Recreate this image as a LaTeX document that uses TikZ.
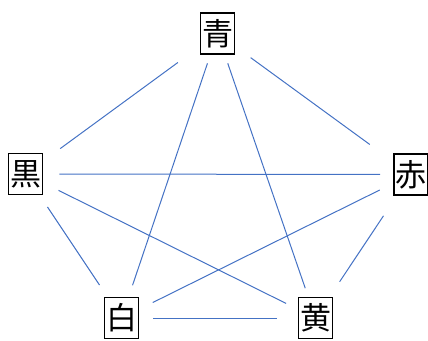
\documentclass[tikz,border=0pt]{standalone}
\usepackage{fontspec}
\newfontfamily\jpfont{Noto Sans CJK JP}
\usepackage{tikz}
\definecolor{lineBlue}{HTML}{4472C4}

\begin{document}
\begin{tikzpicture}[x=1pt, y=-1pt,
  kanji/.style={draw, line width=1.6pt, inner sep=0pt, minimum width=34pt,
                minimum height=41pt, font=\jpfont\fontsize{31}{31}\selectfont},
  link/.style={lineBlue, line width=1pt}]
  \useasboundingbox (0,0) rectangle (428,340);
  % the five colours
  \node[kanji] (ao)    at (217.5,33.5) {青};
  \node[kanji] (kuro)  at (25.5,174)   {黒};
  \node[kanji] (aka)   at (411,174.5)  {赤};
  \node[kanji] (shiro) at (121.5,318)  {白};
  \node[kanji] (ki)    at (315.5,318)  {黄};
  % outer ring
  \draw[link, shorten <=27pt, shorten >=21pt] (ao) -- (kuro);
  \draw[link, shorten <=19pt, shorten >=29pt] (ao) -- (aka);
  \draw[link, shorten <=14pt, shorten >=14pt] (kuro) -- (shiro);
  \draw[link, shorten <=24pt, shorten >=18pt] (aka) -- (ki);
  \draw[link, shorten <=14pt, shorten >=21pt] (shiro) -- (ki);
  % inner star
  \draw[link, shorten <=16pt, shorten >=13pt] (kuro) -- (aka);
  \draw[link, shorten <=17pt, shorten >=13pt] (kuro) -- (ki);
  \draw[link, shorten <=9pt, shorten >=12pt] (ao) -- (shiro);
  \draw[link, shorten <=9pt, shorten >=9pt] (ao) -- (ki);
  \draw[link, shorten <=15pt, shorten >=15pt] (aka) -- (shiro);
\end{tikzpicture}
\end{document}
